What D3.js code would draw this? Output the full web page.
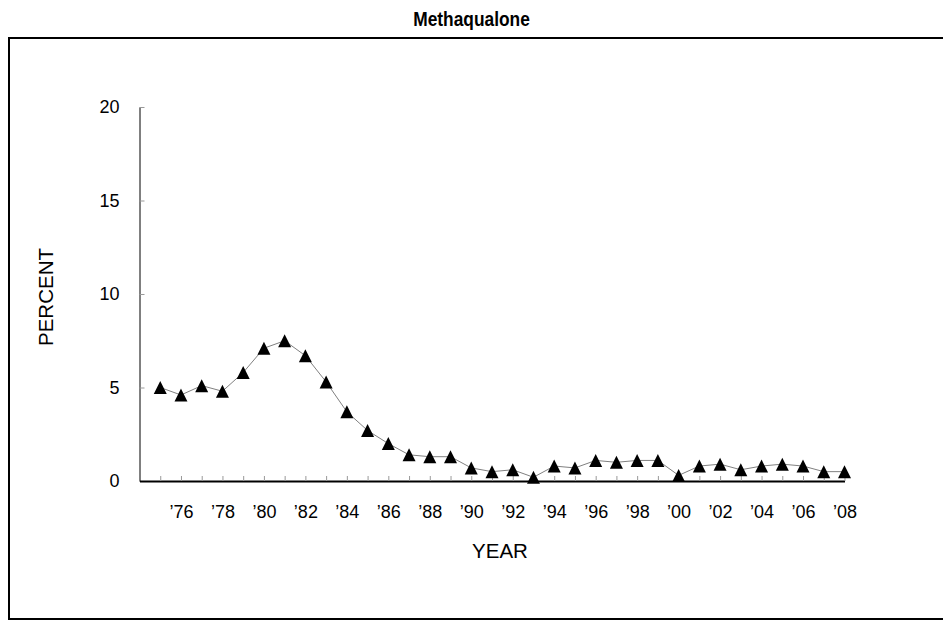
<!DOCTYPE html>
<html>
<head>
<meta charset="utf-8">
<script src="https://cdn.jsdelivr.net/npm/d3@7"></script>
<style>
  body { margin: 0; background: #fff; }
  svg { display: block; font-family: "Liberation Sans", Arial, sans-serif; }
</style>
</head>
<body>
<div id="chart"></div>
<script>
// Methaqualone, percent by year

var years = [1975, 1976, 1977, 1978, 1979, 1980, 1981, 1982, 1983, 1984,
             1985, 1986, 1987, 1988, 1989, 1990, 1991, 1992, 1993, 1994,
             1995, 1996, 1997, 1998, 1999, 2000, 2001, 2002, 2003, 2004,
             2005, 2006, 2007, 2008];
var percent = [5.0, 4.6, 5.1, 4.8, 5.8, 7.1, 7.5, 6.7, 5.3, 3.7,
               2.7, 2.0, 1.4, 1.3, 1.3, 0.7, 0.5, 0.6, 0.2, 0.8,
               0.7, 1.1, 1.0, 1.1, 1.1, 0.3, 0.8, 0.9, 0.6, 0.8,
               0.9, 0.8, 0.5, 0.5];
var yTicks = [0, 5, 10, 15, 20];
var chartTitle = 'Methaqualone';

var width = 943, height = 621;

var svg = d3.select('#chart').append('svg')
    .attr('width', width)
    .attr('height', height);

// Outer frame (runs past the right edge)
svg.append('rect')
    .attr('x', 9).attr('y', 38)
    .attr('width', 960).attr('height', 581)
    .attr('fill', 'none')
    .attr('stroke', '#000')
    .attr('stroke-width', 2);

// Title - narrow bold
svg.append('text')
    .attr('transform', 'translate(471.5,26) scale(0.89,1)')
    .attr('text-anchor', 'middle')
    .style('font-weight', 'bold')
    .style('font-size', '19.5px')
    .text(chartTitle);

// Scales
var x = d3.scaleLinear().domain([1974, 2008]).range([139.5, 844.5]);
var y = d3.scaleLinear().domain([0, 20]).range([481, 107]);

// Y axis
var yAxis = svg.append('g')
    .attr('transform', 'translate(139.5,0)')
    .call(d3.axisLeft(y).tickValues(yTicks).tickSize(-5).tickPadding(20).tickSizeOuter(0));
yAxis.select('.domain').attr('stroke', '#000');
yAxis.selectAll('.tick line').attr('stroke', '#999');
yAxis.selectAll('.tick text')
    .attr('fill', '#000')
    .style('font-size', '18px')
    .style('font-family', '"Liberation Sans", Arial, sans-serif');

// X axis
var xAxis = svg.append('g')
    .attr('transform', 'translate(0,481)')
    .call(d3.axisBottom(x)
        .tickValues(years)
        .tickSize(-5)
        .tickPadding(24)
        .tickSizeOuter(0)
        .tickFormat(function(d) { return d % 2 === 0 ? '\u2019' + String(d).slice(2) : ''; }));
xAxis.select('.domain').attr('stroke', '#000').attr('stroke-width', 2);
xAxis.selectAll('.tick line').attr('stroke', '#999');
xAxis.selectAll('.tick text')
    .attr('fill', '#000')
    .style('font-size', '18px')
    .style('font-family', '"Liberation Sans", Arial, sans-serif');

// Axis titles
svg.append('text')
    .attr('x', 500).attr('y', 558)
    .attr('text-anchor', 'middle')
    .style('font-size', '20.5px')
    .text('YEAR');

svg.append('text')
    .attr('transform', 'translate(53,297) rotate(-90)')
    .attr('text-anchor', 'middle')
    .style('font-size', '20.5px')
    .text('PERCENT');

// Line
var line = d3.line()
    .x(function(d, i) { return x(years[i]); })
    .y(function(d) { return y(d); });

svg.append('path')
    .datum(percent)
    .attr('d', line)
    .attr('fill', 'none')
    .attr('stroke', '#808080')
    .attr('stroke-width', 1);

// Triangle markers
var tri = 'M0,-6.5L6.5,6.5L-6.5,6.5Z';
svg.selectAll('.marker')
    .data(percent)
    .enter().append('path')
    .attr('class', 'marker')
    .attr('d', tri)
    .attr('transform', function(d, i) { return 'translate(' + x(years[i]) + ',' + y(d) + ')'; })
    .attr('fill', '#000');
</script>
</body>
</html>
